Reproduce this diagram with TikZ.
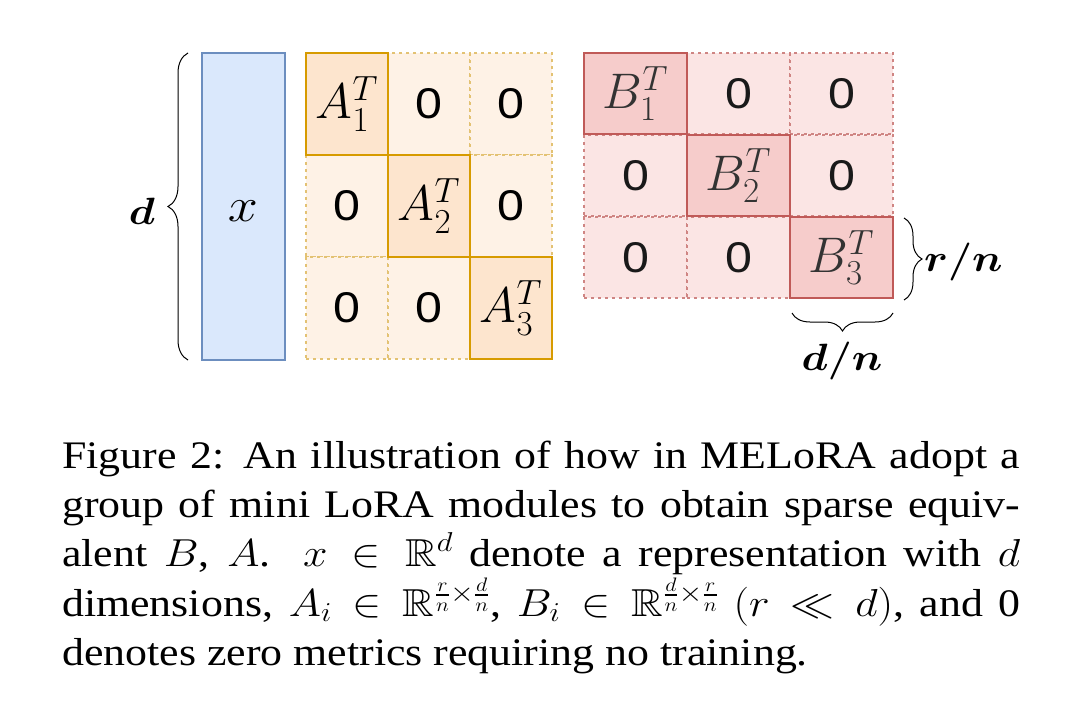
\RequirePackage{fix-cm}
\documentclass[tikz,border=0pt]{standalone}
\usepackage{graphicx}
\usepackage{amssymb}
\usepackage{bm}
\usepackage{fontspec}
\setmainfont{Liberation Serif}
\newfontfamily\digitfont{Liberation Sans}
\usetikzlibrary{decorations.pathreplacing}
\newcommand{\hstr}[1]{\scalebox{1.125}[1]{#1}}
\newcommand{\capln}[1]{\hstr{\makebox[851.5pt][s]{#1}}}
\definecolor{xfill}{HTML}{DAE8FC}
\definecolor{xdraw}{HTML}{6C8EBF}
\definecolor{afill}{HTML}{FDE5CE}
\definecolor{afillz}{HTML}{FEF2E6}
\definecolor{adraw}{HTML}{D79B00}
\definecolor{adrawz}{HTML}{E3C273}
\definecolor{bfill}{HTML}{F6CCCB}
\definecolor{bfillz}{HTML}{FBE5E4}
\definecolor{bdraw}{HTML}{C05A58}
\definecolor{bdrawz}{HTML}{CF8583}
\tikzset{
  cellbox/.style={rectangle, inner sep=0pt, outer sep=0pt, anchor=north west},
  acell/.style={cellbox, minimum width=82pt, minimum height=102pt},
  bcell/.style={cellbox, minimum width=103pt, minimum height=81pt},
  adiag/.style={acell, fill=afill, draw=adraw, line width=2.8pt, font=\fontsize{50}{56}\selectfont},
  azero/.style={acell, fill=afillz, draw=adrawz, line width=2.8pt, dash pattern=on 2.8pt off 4.2pt, font=\fontsize{43}{50}\digitfont},
  bdiag/.style={bcell, fill=bfill, draw=bdraw, line width=2.8pt, text=black!80, font=\fontsize{50}{56}\selectfont},
  bzero/.style={bcell, fill=bfillz, draw=bdrawz, line width=2.8pt, dash pattern=on 2.8pt off 4.2pt, text=black!90, font=\fontsize{43}{50}\digitfont},
  bracestyle/.style={decorate, line width=1pt},
  dimlabel/.style={inner sep=0pt, font=\fontsize{38}{42}\selectfont},
  capline/.style={anchor=base west, inner sep=0pt, font=\fontsize{39}{49}\selectfont}
}
\begin{document}
\begin{tikzpicture}[x=1pt, y=-1pt]
\fill[white] (0,0) rectangle (1080,712);
\useasboundingbox (0,0) rectangle (1080,712);
% x vector
\node[cellbox, minimum width=83pt, minimum height=307pt, fill=xfill, draw=xdraw, line width=2.8pt] (xbox) at (202,53) {};
\node[font=\fontsize{48}{54}\selectfont, inner sep=0pt] (xlab) at (243,211) {\hstr{$x$}};
% A matrix: zeros first
\node[azero] (a12) at (388,53) {\hstr{0}};
\node[azero] (a13) at (470,53) {\hstr{0}};
\node[azero] (a21) at (306,155) {\hstr{0}};
\node[azero] (a23) at (470,155) {\hstr{0}};
\node[azero] (a31) at (306,257) {\hstr{0}};
\node[azero] (a32) at (388,257) {\hstr{0}};
\node[adiag] (a11) at (306,53) {$A_1^T$};
\node[adiag] (a22) at (388,155) {$A_2^T$};
\node[adiag] (a33) at (470,257) {$A_3^T$};
% B matrix
\node[bzero] (b12) at (687,53) {\hstr{0}};
\node[bzero] (b13) at (790,53) {\hstr{0}};
\node[bzero] (b21) at (584,135) {\hstr{0}};
\node[bzero] (b23) at (790,135) {\hstr{0}};
\node[bzero] (b31) at (584,217) {\hstr{0}};
\node[bzero] (b32) at (687,217) {\hstr{0}};
\node[bdiag] (b11) at (584,53) {$B_1^T$};
\node[bdiag] (b22) at (687,135) {$B_2^T$};
\node[bdiag] (b33) at (790,217) {$B_3^T$};
% braces
\coordinate (dtop) at (188,53);
\coordinate (dbot) at (188,360);
\draw[bracestyle, decoration={brace, amplitude=20pt}] (dbot) -- (dtop);
\node[dimlabel] (dlab) at (142,211) {\hstr{$\bm{d}$}};
\coordinate (rtop) at (904,218);
\coordinate (rbot) at (904,300);
\draw[bracestyle, decoration={brace, amplitude=18pt}] (rtop) -- (rbot);
\node[dimlabel, anchor=west] (rlab) at (924,262) {\hstr{$\bm{r/n}$}};
\coordinate (dnl) at (792,313);
\coordinate (dnr) at (893,313);
\draw[bracestyle, decoration={brace, amplitude=18pt}] (dnr) -- (dnl);
\node[dimlabel] (dnlab) at (842,361) {\hstr{$\bm{d/n}$}};
% caption
\node[capline] (c1) at (62,468) {\capln{Figure 2: An illustration of how in MELoRA adopt a}};
\node[capline] (c2) at (62,517) {\capln{group of mini LoRA modules to obtain sparse equiv-}};
\node[capline] (c3) at (62,566) {\capln{alent $B$, $A$.\ \ $x \in \mathbb{R}^d$ denote a representation with $d$}};
\node[capline] (c4) at (62,616) {\capln{dimensions, $A_i \in \mathbb{R}^{\frac{r}{n}\times\frac{d}{n}}$, $B_i \in \mathbb{R}^{\frac{d}{n}\times\frac{r}{n}}$ $(r \ll d)$, and 0}};
\node[capline] (c5) at (62,665) {\hstr{denotes zero metrics requiring no training.}};
\end{tikzpicture}
\end{document}
